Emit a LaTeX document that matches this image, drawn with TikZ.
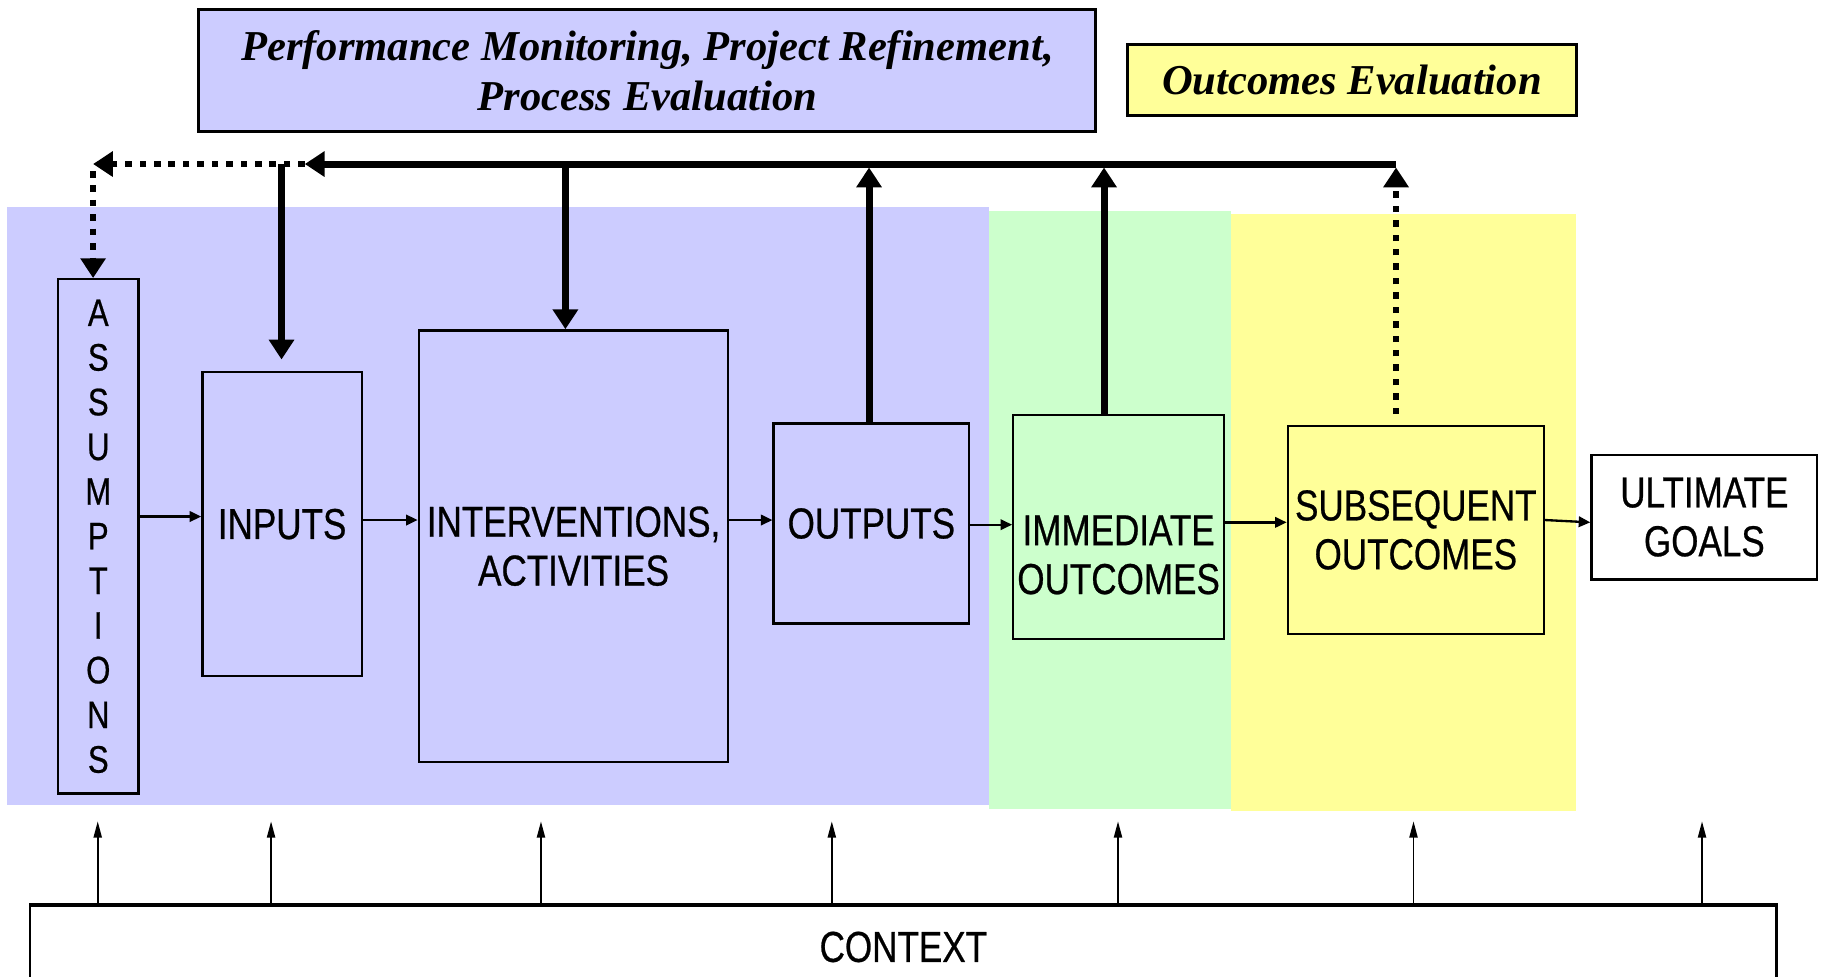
\documentclass[tikz,border=0pt]{standalone}
\usepackage{fontspec}
\setmainfont{Liberation Serif}
\newfontfamily\narrow[FakeStretch=0.81,FakeBold=0.6]{Liberation Sans}
\usetikzlibrary{arrows.meta}
\definecolor{lblue}{HTML}{CCCCFF}
\definecolor{lgreen}{HTML}{CCFFCC}
\definecolor{lyellow}{HTML}{FFFF99}
\begin{document}
\begin{tikzpicture}[x=0.5pt,y=-0.5pt,
  box/.style={draw, line width=1pt, rectangle, inner sep=0pt, align=center,
    font=\narrow\fontsize{18.6pt}{21pt}\selectfont},
  boxtext/.style={inner sep=0pt, align=center, font=\narrow\fontsize{18.6pt}{21pt}\selectfont},
  topbox/.style={draw, line width=1.3pt, rectangle, inner sep=0pt, align=center,
    font=\bfseries\itshape\fontsize{18.3pt}{21.5pt}\selectfont},
  thickarrow/.style={line width=3pt, -{Triangle[length=8.5pt,width=10.5pt]}},
  dotarrow/.style={line width=2.8pt, dash pattern=on 2.8pt off 3.4pt, -{Triangle[length=8.5pt,width=10.5pt]}},
  thinarrow/.style={line width=1pt, -{Triangle[length=5pt,width=4.5pt]}},
  ctxarrow/.style={line width=0.75pt, -{Triangle[length=7pt,width=3.5pt]}}
]
\useasboundingbox (0,0) rectangle (1567,839);
% background bands
\fill[lblue] (6,178) rectangle (850,692);
\fill[lgreen] (850,181) rectangle (1058,695);
\fill[lyellow] (1058,184) rectangle (1355,697);

% top boxes
\node[topbox, fill=lblue, minimum width=385.5pt, minimum height=52.5pt] (perf) at (556.5,60.5)
  {Performance Monitoring, Project Refinement,\\Process Evaluation};
\node[topbox, fill=lyellow, minimum width=193pt, minimum height=30.5pt] (oeval) at (1162,68.5)
  {Outcomes Evaluation};

% main boxes
\node[box, minimum width=34.5pt, minimum height=221pt,
  font=\narrow\fontsize{16.5pt}{19.2pt}\selectfont] (assum) at (84.5,461)
  {A\\S\\S\\U\\M\\P\\T\\I\\O\\N\\S};
\node[box, minimum width=68.5pt, minimum height=130.5pt] (inputs) at (242.5,450.5) {INPUTS};
\node[box, minimum width=133pt, minimum height=185.5pt] (interv) at (493,469.5) {INTERVENTIONS,\\ACTIVITIES};
\node[box, minimum width=84pt, minimum height=86pt] (outputs) at (749,450) {OUTPUTS};
\node[box, fill=lgreen, minimum width=90.5pt, minimum height=96pt] (immed) at (961.5,453) {};
\node[boxtext] (immedtxt) at (961.5,477) {IMMEDIATE\\OUTCOMES};
\node[box, fill=lyellow, minimum width=110pt, minimum height=89.5pt] (subseq) at (1217,455.5) {SUBSEQUENT\\OUTCOMES};
\node[box, fill=white, minimum width=97pt, minimum height=53.5pt] (ultim) at (1465,444.5) {ULTIMATE\\GOALS};
\node[box, fill=white, minimum width=750.5pt, minimum height=35pt] (context) at (776.5,814) {CONTEXT};
\draw[line width=1.8pt] (context.north west) -- (context.north east);

% helper coordinates
\coordinate (ya) at (0,444);
\coordinate (yb) at (0,447);
\coordinate (yc) at (0,451);
\coordinate (yd) at (0,449);
\coordinate (fbR) at (1200,141);
\coordinate (fbL) at (262,141);
\coordinate (fbC) at (80,141);
\coordinate (fbIn) at (242,141);
\coordinate (fbIv) at (486,141);
\coordinate (fbO) at (747,141);
\coordinate (fbI) at (949,141);

% flow arrows
\draw[thinarrow] (assum.east |- ya) -- (inputs.west |- ya);
\draw[thinarrow] (inputs.east |- yb) -- (interv.west |- yb);
\draw[thinarrow] (interv.east |- yb) -- (outputs.west |- yb);
\draw[thinarrow] (outputs.east |- yc) -- (immed.west |- yc);
\draw[thinarrow] (immed.east |- yd) -- (subseq.west |- yd);
\draw[thinarrow] (subseq.east |- yb) -- (ultim.west |- yd);

% feedback loop
\draw[thickarrow] (fbR) -- (fbL);
\draw[dotarrow] (fbL) -- (fbC);
\draw[dotarrow] ([yshift=-3pt]fbC) -- (fbC |- assum.north);
\draw[thickarrow, shorten >=5pt] (fbIn) -- (fbIn |- inputs.north);
\draw[thickarrow] (fbIv) -- (fbIv |- interv.north);
\draw[thickarrow, shorten >=1.5pt] (fbO |- outputs.north) -- (fbO);
\draw[thickarrow, shorten >=1.5pt] (fbI |- immed.north) -- (fbI);
\draw[dotarrow, shorten <=4.5pt, shorten >=1.5pt] (fbR |- subseq.north) -- (fbR);

% context arrows
\foreach \i/\x in {1/84,2/233,3/465,4/715,5/961,6/1215,7/1463}{
  \coordinate (k\i) at (\x,706);
  \draw[ctxarrow, shorten <=1pt] (k\i |- context.north) -- (k\i);
}
\end{tikzpicture}
\end{document}
